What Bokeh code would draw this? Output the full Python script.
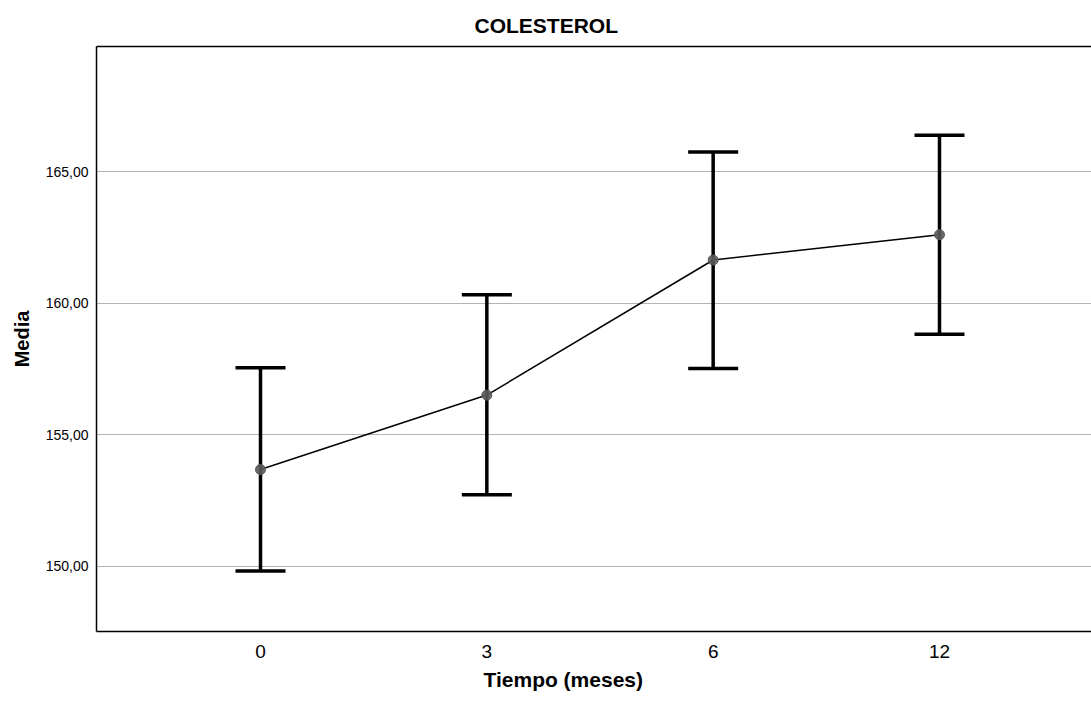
from bokeh.plotting import figure
from bokeh.models import (Range1d, FixedTicker, CustomJSTickFormatter, Whisker, TeeHead,
                          ColumnDataSource, Title, LinearAxis)
from bokeh.embed import file_html
from bokeh.resources import INLINE

# Data
categories = ["0", "3", "6", "12"]
means = [153.68, 156.51, 161.64, 162.60]
upper = [157.55, 160.32, 165.74, 166.38]
lower = [149.83, 152.72, 157.52, 158.82]
y_ticks = [150, 155, 160, 165]

xpos = list(range(len(categories)))
src = ColumnDataSource(data=dict(x=xpos, mean=means, upper=upper, lower=lower))

FONT = "Liberation Sans"
Y0, Y1 = 147.53, 169.75

p = figure(width=1091, height=701, output_backend="svg", toolbar_location=None,
           x_range=Range1d(-0.7246, 3.6716), y_range=Range1d(Y0, Y1),
           min_border_left=96, min_border_top=46, min_border_bottom=70, min_border_right=0)

p.title.text = "COLESTEROL"
p.title.text_font = FONT
p.title.text_font_size = "21px"
p.title.text_font_style = "bold"
p.title.align = "left"
p.title.offset = 378
p.title.standoff = 20
p.title.text_color = "black"

p.outline_line_color = None

# top border line as an empty axis (no ticks, no labels)
top = LinearAxis(ticker=FixedTicker(ticks=[]),
                 major_tick_out=0, major_tick_in=0, minor_tick_out=0, minor_tick_in=0,
                 axis_line_color="black", axis_line_width=1.5)
p.add_layout(top, "above")

# axes
ax = p.below[0]
ax.ticker = FixedTicker(ticks=xpos)
ax.major_label_overrides = {i: c for i, c in enumerate(categories)}
ax.major_label_text_font = FONT
ax.major_label_text_font_size = "19px"
ax.major_label_text_color = "black"
ax.major_label_standoff = 13
ax.major_tick_out = 0
ax.major_tick_in = 0
ax.minor_tick_out = 0
ax.minor_tick_in = 0
ax.axis_line_color = "black"
ax.axis_line_width = 1.5

p.yaxis.ticker = FixedTicker(ticks=y_ticks)
p.yaxis.formatter = CustomJSTickFormatter(code="return tick.toFixed(2).replace('.', ',');")
p.yaxis.major_label_text_font = FONT
p.yaxis.major_label_text_font_size = "14px"
p.yaxis.major_label_text_color = "black"
p.yaxis.major_label_standoff = 8
p.yaxis.major_tick_out = 0
p.yaxis.major_tick_in = 0
p.yaxis.minor_tick_out = 0
p.yaxis.minor_tick_in = 0
p.yaxis.axis_line_color = "black"
p.yaxis.axis_line_width = 1.5
p.yaxis.axis_label = "Media"
p.yaxis.axis_label_text_font = FONT
p.yaxis.axis_label_text_font_size = "20px"
p.yaxis.axis_label_text_font_style = "bold"
p.yaxis.axis_label_text_color = "black"
p.yaxis.axis_label_standoff = 10

p.xgrid.grid_line_color = None
p.ygrid.grid_line_color = "#b4b4b4"
p.ygrid.grid_line_width = 1.2

xlab = Title(text="Tiempo (meses)", align="left", offset=387, text_font=FONT,
             text_font_size="21px", text_font_style="bold", text_color="black", standoff=10)
p.add_layout(xlab, "below")

# error bars
w = Whisker(source=src, base="x", upper="upper", lower="lower",
            line_color="black", line_width=3.5,
            upper_head=TeeHead(size=50, line_width=3.5, line_color="black"),
            lower_head=TeeHead(size=50, line_width=3.5, line_color="black"))
p.add_layout(w)

p.line("x", "mean", source=src, line_color="black", line_width=1.5)
p.scatter("x", "mean", source=src, size=10, fill_color="#5a5a5a", line_color="#5a5a5a",
          fill_alpha=0.9)

open("out.html", "w").write(file_html(p, INLINE))
